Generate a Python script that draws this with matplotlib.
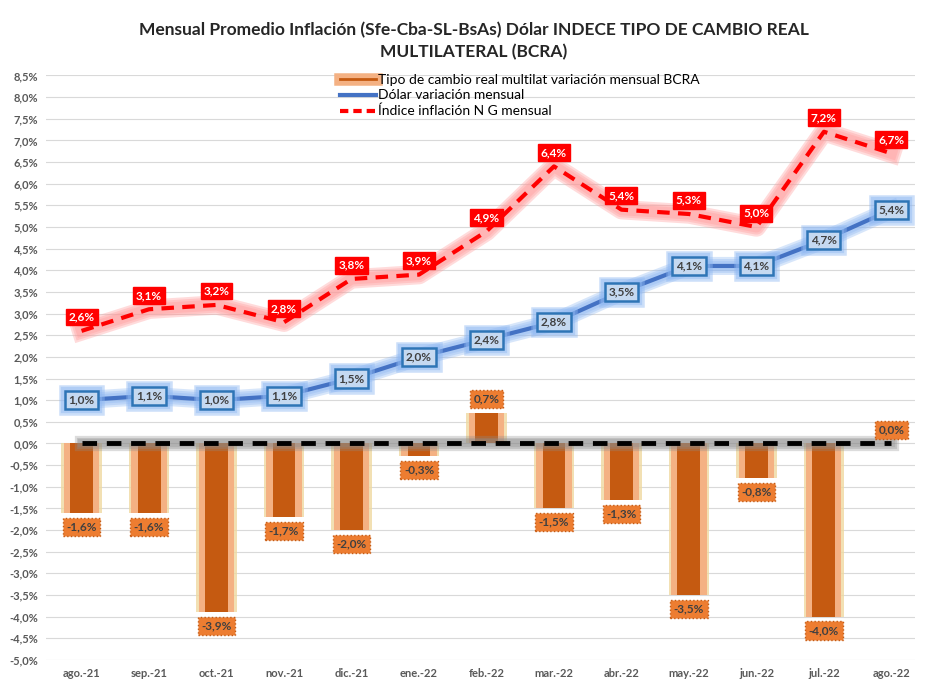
import matplotlib.pyplot as plt
import matplotlib.patheffects as pe
from matplotlib.lines import Line2D
import numpy as np

meses = ['ago.-21', 'sep.-21', 'oct.-21', 'nov.-21', 'dic.-21', 'ene.-22', 'feb.-22',
         'mar.-22', 'abr.-22', 'may.-22', 'jun.-22', 'jul.-22', 'ago.-22']
tcrm = [-1.6, -1.6, -3.9, -1.7, -2.0, -0.3, 0.7, -1.5, -1.3, -3.5, -0.8, -4.0, 0.0]
dolar = [1.0, 1.1, 1.0, 1.1, 1.5, 2.0, 2.4, 2.8, 3.5, 4.1, 4.1, 4.7, 5.4]
inflacion = [2.6, 3.1, 3.2, 2.8, 3.8, 3.9, 4.9, 6.4, 5.4, 5.3, 5.0, 7.2, 6.7]
cero = [0.0] * len(meses)

plt.rcParams['font.family'] = ['Lato', 'DejaVu Sans']

fig = plt.figure(figsize=(9.29, 6.86), dpi=100)
ax = fig.add_axes([0.05, 0.038, 0.935, 0.852])
x = np.arange(len(meses))

def glow(color, widths, alpha):
    # varias capas para un brillo suave
    return [pe.Stroke(linewidth=w, foreground=color, alpha=alpha) for w in widths]

# barras con "brillo"
ax.bar(x, tcrm, width=0.6, color='#efd9a0', alpha=0.8, zorder=2)
ax.bar(x, tcrm, width=0.52, color='#f4b183', zorder=2)
ax.bar(x, tcrm, width=0.34, color='#c55a11', zorder=3)

# linea de cero
ax.plot(x, cero, color='#808080', lw=1, alpha=0.0, zorder=4,
        path_effects=glow('#8c8c8c', [11, 8, 6], 0.3))
ax.plot(x, cero, color='black', lw=3.5, dashes=(3, 2), zorder=4)

# lineas
ax.plot(x, dolar, color='#4472c4', lw=0, zorder=5,
        path_effects=glow('#8fb8f2', [13, 10, 7], 0.35))
ax.plot(x, dolar, color='#4472c4', lw=3, zorder=5)
ax.plot(x, inflacion, color='#ff0000', lw=0, zorder=5,
        path_effects=glow('#ff9a9a', [14, 11, 8], 0.35))
ax.plot(x, inflacion, color='#ff0000', lw=3, dashes=(3, 2), zorder=5)

def fmt(v):
    return ('%.1f%%' % v).replace('.', ',')

for i in x:
    ax.annotate(fmt(inflacion[i]), (i, inflacion[i]), xytext=(0, 10), textcoords='offset points',
                ha='center', va='center', fontsize=8.5, fontweight='bold', color='white', zorder=7,
                bbox=dict(boxstyle='square,pad=0.25', fc='#ff0000', ec='#ff0000'))
    ax.annotate(fmt(dolar[i]), (i, dolar[i]), xytext=(0, 0), textcoords='offset points',
                ha='center', va='center', fontsize=8.5, fontweight='bold', color='#404040', zorder=7,
                bbox=dict(boxstyle='square,pad=0.3', fc='#c5d9f1', ec='#2e75b6', lw=1.8,
                          path_effects=glow('#8fb8f2', [9, 6], 0.45) + [pe.Normal()]))
    off = -10 if tcrm[i] < 0 else 10
    ax.annotate(fmt(tcrm[i]), (i, tcrm[i]), xytext=(0, off), textcoords='offset points',
                ha='center', va='center', fontsize=8.5, fontweight='bold', color='#404040', zorder=7,
                bbox=dict(boxstyle='square,pad=0.3', fc='#ed7d31', ec='#c55a11', lw=1, ls=':'))

ax.set_xlim(-0.52, 12.35)
ax.set_ylim(-5.0, 8.5)
yt = np.arange(-5.0, 8.51, 0.5)
ax.set_yticks(yt)
ax.set_yticklabels([fmt(v) for v in yt], fontsize=8, color='#595959', fontweight='bold')
ax.set_xticks(x)
ax.set_xticklabels(meses, fontsize=8, color='#595959', fontweight='bold')
ax.tick_params(length=0, pad=6)
ax.grid(axis='y', color='#d9d9d9', lw=0.8)
ax.set_axisbelow(True)
for s in ax.spines.values():
    s.set_visible(False)

# leyenda
h1 = Line2D([], [], color='#c55a11', lw=2,
            path_effects=[pe.Stroke(linewidth=9, foreground='#f4b183'), pe.Normal()])
h2 = Line2D([], [], color='#4472c4', lw=3)
h3 = Line2D([], [], color='#ff0000', lw=3, dashes=(2, 1.2))
ax.legend([h1, h2, h3], ['Tipo de cambio real multilat variación mensual BCRA',
                         'Dólar variación mensual', 'Índice inflación N G mensual'],
          loc='upper center', bbox_to_anchor=(0.545, 1.012), frameon=False, fontsize=10,
          handlelength=2.6, handletextpad=0.2, labelspacing=0.25, borderaxespad=0)

fig.suptitle('Mensual Promedio Inflación (Sfe-Cba-SL-BsAs) Dólar INDECE TIPO DE CAMBIO REAL\nMULTILATERAL (BCRA)',
             x=0.51, y=0.968, fontsize=12.5, fontweight='bold', color='#262626', linespacing=1.4)

fig.savefig('out.png', dpi=100)
